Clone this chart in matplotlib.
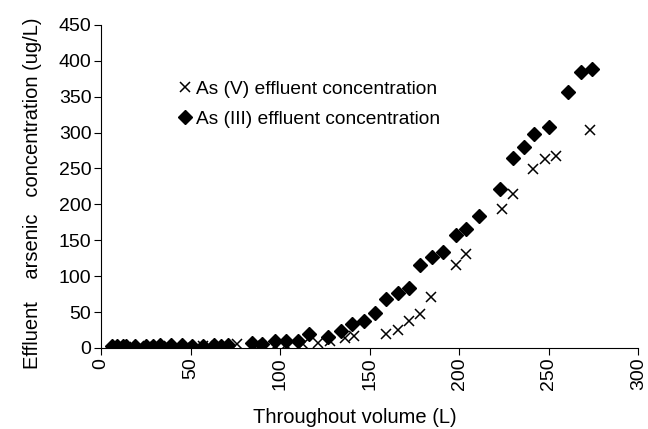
import matplotlib
matplotlib.use('Agg')
import matplotlib.pyplot as plt

plt.rcParams['font.family'] = ['Liberation Sans', 'DejaVu Sans']

# As (III) effluent concentration, diamonds
vol_3 = [6, 9, 12, 14, 19, 25, 29, 33, 39, 45, 51, 57, 63, 67, 71, 84, 90, 97, 103,
         110, 116, 127, 134, 140, 147, 153, 159, 166, 172, 178, 185, 191, 198, 204,
         211, 223, 230, 236, 242, 250, 261, 268, 274]
conc_3 = [2, 2, 3, 2, 3, 3, 3, 4, 4, 4, 3, 3, 4, 3, 4, 7, 6, 9, 10,
          9, 19, 15, 24, 33, 37, 48, 68, 77, 84, 115, 126, 134, 157, 165,
          184, 221, 264, 280, 298, 308, 356, 384, 389]

# As (V) effluent concentration, crosses
vol_5 = [8, 14, 21, 30, 38, 47, 57, 64, 76, 86, 97, 103, 113, 121, 128, 136, 141,
         159, 166, 172, 178, 184, 198, 204, 224, 230, 241, 248, 254, 273]
conc_5 = [1, 1, 2, 1, 2, 1, 2, 3, 5, 4, 3, 4, 6, 7, 10, 14, 16,
          19, 25, 37, 47, 71, 116, 131, 193, 214, 249, 263, 267, 304]

fig = plt.figure(figsize=(6.48, 4.29), dpi=100)
ax = fig.add_axes([0.156, 0.189, 0.829, 0.753])

ax.plot(vol_5, conc_5, linestyle='none', marker='x', color='black', markersize=7,
        markeredgewidth=1.1, label='As (V) effluent concentration')
ax.plot(vol_3, conc_3, linestyle='none', marker='D', color='black', markersize=7,
        label='As (III) effluent concentration')

ax.set_xlim(0, 300)
ax.set_ylim(0, 450)
ax.set_xticks(range(0, 301, 50))
ax.set_yticks(range(0, 451, 50))
ax.spines['top'].set_visible(False)
ax.spines['right'].set_visible(False)
ax.tick_params(direction='out', length=5, labelsize=14, colors='black', pad=2)
plt.setp(ax.get_xticklabels(), rotation=90)

ax.set_xlabel('Throughout volume (L)', fontsize=14.5)
ax.set_ylabel('Effluent    arsenic   concentration (ug/L)', fontsize=14.5)
ax.xaxis.set_label_coords(0.473, -0.186)
ax.yaxis.set_label_coords(-0.11, 0.48)

ax.legend(loc='upper left', bbox_to_anchor=(0.121, 0.857), frameon=False, fontsize=13.8,
          handletextpad=0.05, handlelength=1.0, labelspacing=0.65, borderpad=0)

fig.savefig('out.png', dpi=100)
